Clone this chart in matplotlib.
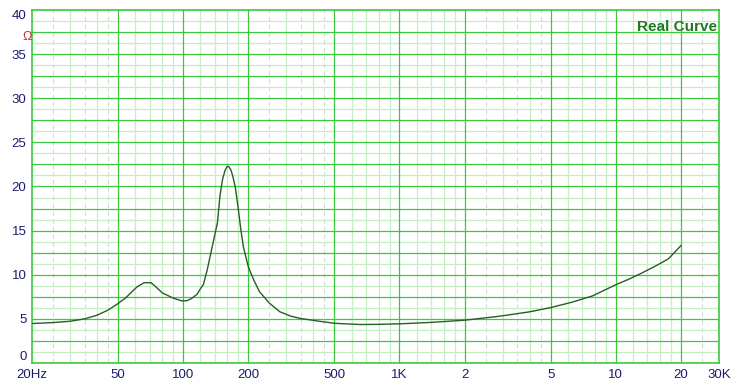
import numpy as np
import matplotlib.pyplot as plt

# impedance curve (Hz, ohm)
freq = [20, 25, 30, 35, 40, 45, 50, 54, 57, 61, 66, 71, 75, 80, 90, 98,
        104, 110, 116, 120, 124, 129, 136, 144, 148, 152, 156, 159, 161, 163,
        166, 169, 174, 179, 185, 190, 200, 212, 225, 250, 280, 315, 350, 420,
        500, 660, 800, 1000, 1400, 2000, 2900, 4000, 5000, 6300, 7800, 10000,
        11500, 13200, 15300, 17500, 20000]
ohm = [4.47, 4.58, 4.73, 5.0, 5.42, 6.0, 6.74, 7.35, 7.9, 8.6, 9.1, 9.1, 8.6,
       7.95, 7.35, 7.05, 7.05, 7.35, 7.8, 8.4, 8.9, 10.5, 13.1, 15.9, 19.0,
       20.8, 21.8, 22.2, 22.3, 22.2, 21.9, 21.3, 20.0, 17.8, 15.0, 13.1, 10.9,
       9.4, 8.1, 6.8, 5.8, 5.3, 5.04, 4.75, 4.5, 4.36, 4.38, 4.44, 4.6, 4.85,
       5.3, 5.8, 6.28, 6.9, 7.6, 8.87, 9.5, 10.2, 11.0, 11.8, 13.3]

xtick_pos = [20, 50, 100, 200, 500, 1000, 2000, 5000, 10000, 20000, 30000]
xtick_lab = ["20Hz", "50", "100", "200", "500", "1K", "2", "5", "10", "20", "30K"]
ytick_pos = [0, 5, 10, 15, 20, 25, 30, 35, 40]

MAJOR = "#3cc83c"
MINOR = "#c4efc4"
DASH = "#cfdccf"
LABEL = "#1c1c6e"

plt.rcParams["font.family"] = ["Liberation Sans", "DejaVu Sans"]

fig = plt.figure(figsize=(7.37, 3.89), dpi=100)
ax = fig.add_axes([32 / 737, 1 - 363 / 389, (719 - 32) / 737, 353 / 389])
ax.set_xscale("log")
ax.set_xlim(20, 30000)
ax.set_ylim(0, 40)

# grid: majors at 1-2-5, light minors, dashed at x.5
decades = [10, 100, 1000, 10000]
for d in decades:
    for m in [1, 2, 5]:
        f = m * d
        if 20 < f < 30000:
            ax.axvline(f, color=MAJOR, lw=0.9, zorder=2)
    for m in [1.2, 1.4, 1.6, 1.8, 3, 4, 6, 7, 8, 9]:
        f = m * d
        if 20 < f < 30000:
            ax.axvline(f, color=MINOR, lw=0.9, zorder=1)
    for m in [2.5, 3.5, 4.5]:
        f = m * d
        if 20 < f < 30000:
            ax.axvline(f, color=DASH, lw=0.8, ls=(0, (4, 3)), zorder=1)
for v in np.arange(2.5, 40, 2.5):
    ax.axhline(v, color=MAJOR, lw=0.9, zorder=2)
for v in np.arange(1.25, 40, 2.5):
    ax.axhline(v, color=MINOR, lw=0.9, zorder=1)

ax.plot(freq, ohm, color="#245f24", lw=1.0, zorder=3)

for s in ax.spines.values():
    s.set_color(MAJOR)
    s.set_linewidth(1.2)

ax.set_xticks(xtick_pos)
ax.set_xticklabels(xtick_lab)
ax.xaxis.set_minor_locator(plt.NullLocator())
ax.set_yticks(ytick_pos)
ax.set_yticklabels([str(v) for v in ytick_pos])
ax.tick_params(length=0, colors=LABEL, labelsize=9.5)
ax.tick_params(axis="x", pad=4)
ax.tick_params(axis="y", pad=4)
ylabs = ax.get_yticklabels()
ylabs[0].set_va("bottom")
ylabs[-1].set_va("top")

fig.text(27 / 737, 1 - 37 / 389, "\u03a9", color="#c03030", fontsize=9,
         ha="center", va="center")
ax.text(0.997, 0.972, "Real Curve", transform=ax.transAxes, ha="right",
        va="top", fontsize=11, fontweight="bold", color="#1e7a1e", zorder=4)

fig.savefig("out.png", dpi=100)
